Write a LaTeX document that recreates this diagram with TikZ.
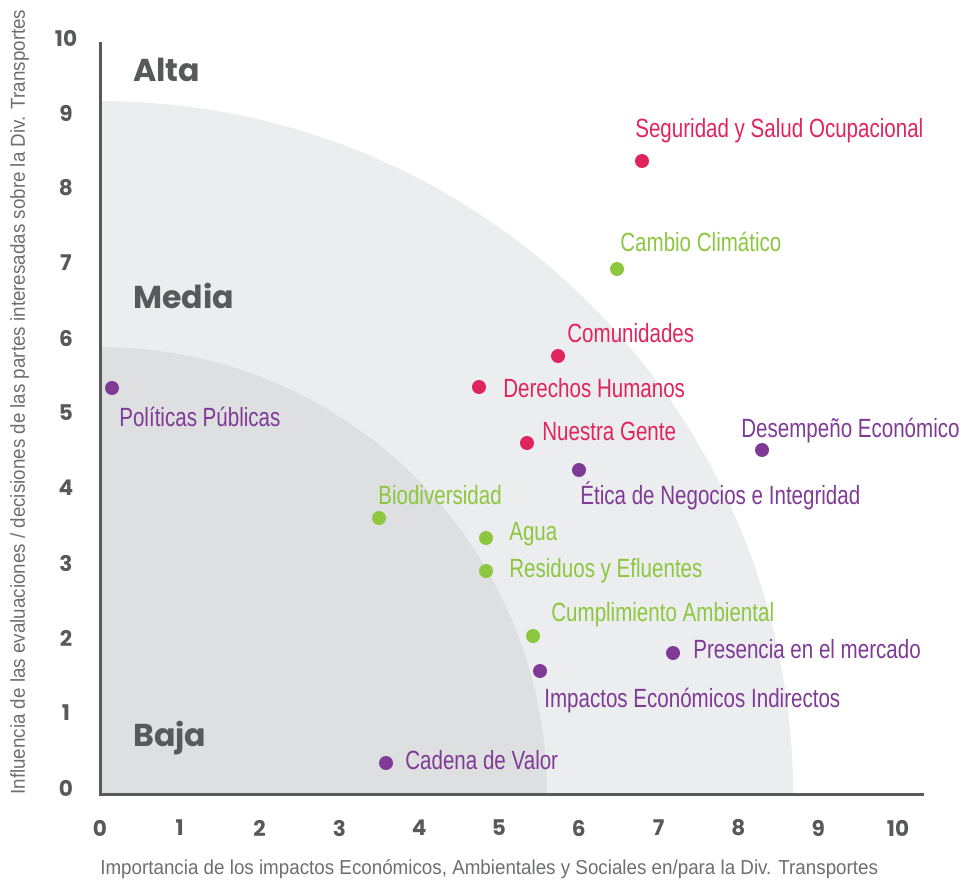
\documentclass[tikz,border=0pt]{standalone}
\usepackage{fontspec}
\newfontfamily\condfont[FakeStretch=0.78]{Liberation Sans}
\newfontfamily\titfont[FakeStretch=0.93]{Liberation Sans}
\newfontfamily\geofont{Poppins}
\definecolor{gristxt}{HTML}{58595B}
\definecolor{gristit}{HTML}{6D6E71}
\definecolor{zonamedia}{HTML}{ECEDEE}
\definecolor{zonabaja}{HTML}{DEDFE1}
\definecolor{rojo}{HTML}{E0245E}
\definecolor{verde}{HTML}{8DC63F}
\definecolor{morado}{HTML}{7F3A96}

\begin{document}
\begin{tikzpicture}[
		x=0.02cm,y=-0.02cm,
		dot/.style={circle,inner sep=0pt,minimum size=0.28cm},
		lbl/.style={font=\condfont\fontsize{15}{18}\selectfont,anchor=base west,inner sep=0pt},
		titulo/.style={font=\titfont\fontsize{11.5}{14}\selectfont,text=gristit,anchor=base west,inner sep=0pt},
		tick/.style={font=\geofont\bfseries\fontsize{12.3}{14}\selectfont,text=gristxt,inner sep=0pt},
		zona/.style={font=\geofont\bfseries\fontsize{18}{22}\selectfont,text=gristxt,anchor=west,inner sep=0pt}
		]
		\useasboundingbox (0,0) rectangle (960,882);
		\fill[zonamedia] (100,794) -- (793,794) arc[start angle=0,end angle=90,radius=13.86cm] -- cycle;
		\fill[zonabaja] (100,794) -- (547,794) arc[start angle=0,end angle=90,radius=8.94cm] -- cycle;
		\coordinate (origen) at (100,794);
		\coordinate (ytop) at (100,42);
		\coordinate (xend) at (924,794);
		\draw[gristxt,line width=0.06cm] (ytop) -- (origen) -- (xend);
		\foreach \i in {0,...,10}{
			\node[tick] (tx\i) at ({100+79.8*\i},828) {\i};
			\node[tick] (ty\i) at (66,{788-75*\i}) {\i};
		}
		\node[zona] (alta) at (133,70) {Alta};
		\node[zona] (media) at (133,296) {Media};
		\node[zona] (baja) at (133,738) {Baja};
		\node[titulo] (xtit) at (100,874) {Importancia de los impactos Económicos, Ambientales y Sociales en/para la Div. Transportes};
		\node[titulo,rotate=90] (ytit) at (25,795) {Influencia de las evaluaciones / decisiones de las partes interesadas sobre la Div. Transportes};
		\node[dot,fill=rojo] (seg) at (642,161) {};
		\node[lbl,text=rojo] (segl) at (635,137) {Seguridad y Salud Ocupacional};
		\node[dot,fill=verde] (cam) at (617,269) {};
		\node[lbl,text=verde] (caml) at (620,251) {Cambio Climático};
		\node[dot,fill=rojo] (com) at (558,356) {};
		\node[lbl,text=rojo] (coml) at (567,342) {Comunidades};
		\node[dot,fill=rojo] (der) at (479,387) {};
		\node[lbl,text=rojo] (derl) at (503,397) {Derechos Humanos};
		\node[dot,fill=rojo] (nue) at (527,443) {};
		\node[lbl,text=rojo] (nuel) at (542,440) {Nuestra Gente};
		\node[dot,fill=morado] (des) at (762,450) {};
		\node[lbl,text=morado] (desl) at (741,437) {Desempeño Económico};
		\node[dot,fill=morado] (eti) at (579,470) {};
		\node[lbl,text=morado] (etil) at (580,504) {Ética de Negocios e Integridad};
		\node[dot,fill=verde] (bio) at (379,518) {};
		\node[lbl,text=verde] (biol) at (378,504) {Biodiversidad};
		\node[dot,fill=verde] (agu) at (486,538) {};
		\node[lbl,text=verde] (agul) at (509,540) {Agua};
		\node[dot,fill=verde] (res) at (486,571) {};
		\node[lbl,text=verde] (resl) at (509,577) {Residuos y Efluentes};
		\node[dot,fill=verde] (cum) at (533,636) {};
		\node[lbl,text=verde] (cuml) at (551,621) {Cumplimiento Ambiental};
		\node[dot,fill=morado] (pre) at (673,653) {};
		\node[lbl,text=morado] (prel) at (693,658) {Presencia en el mercado};
		\node[dot,fill=morado] (imp) at (540,671) {};
		\node[lbl,text=morado] (impl) at (544,707) {Impactos Económicos Indirectos};
		\node[dot,fill=morado] (cad) at (386,763) {};
		\node[lbl,text=morado] (cadl) at (405,769) {Cadena de Valor};
		\node[dot,fill=morado] (pol) at (112,388) {};
		\node[lbl,text=morado] (poll) at (119,426) {Políticas Públicas};
\end{tikzpicture}
\end{document}
